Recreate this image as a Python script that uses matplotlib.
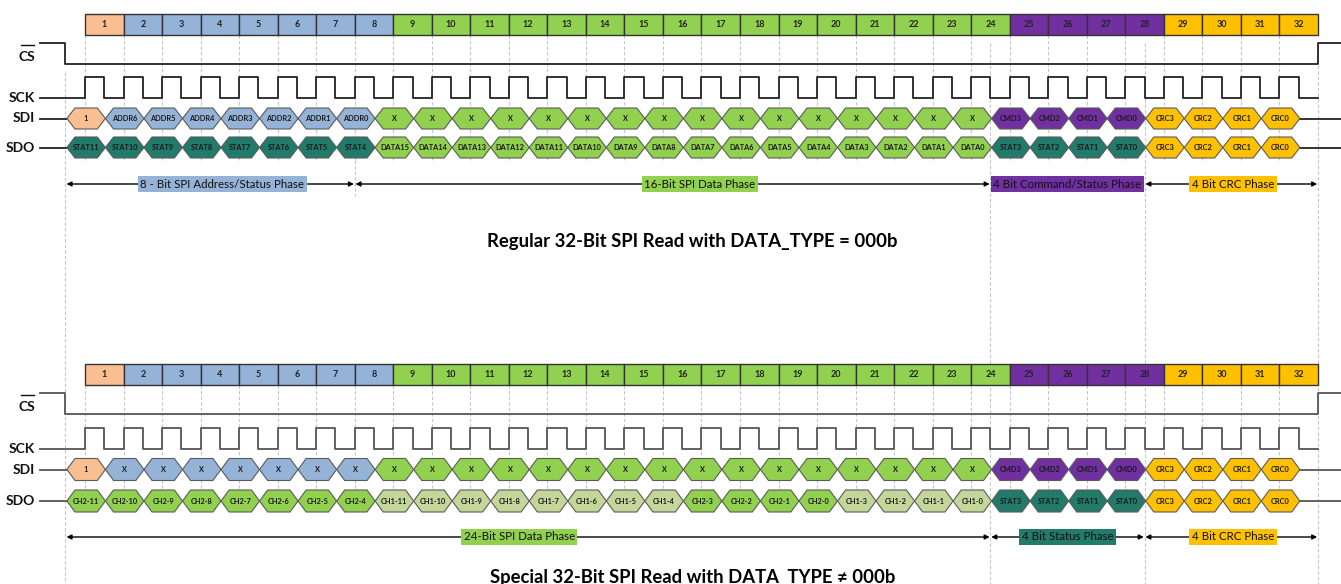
import matplotlib
matplotlib.use("Agg")
import matplotlib.pyplot as plt
from matplotlib.patches import Polygon, Rectangle

plt.rcParams["font.family"] = ["Lato", "DejaVu Sans"]

# ---- data -----------------------------------------------------------------
SALMON = "#F9BF91"
BLUE = "#95B3D7"
GREEN = "#92D050"
LIGHT_GREEN = "#C4D79B"
PURPLE = "#7030A0"
GOLD = "#FFC000"
TEAL = "#227A6B"

box_numbers = [str(i) for i in range(1, 33)]
box_colors = [SALMON] + [BLUE] * 7 + [GREEN] * 16 + [PURPLE] * 4 + [GOLD] * 4

top_sdi_labels = (["1"] + [f"ADDR{i}" for i in range(6, -1, -1)] + ["X"] * 16
                  + [f"CMD{i}" for i in range(3, -1, -1)]
                  + [f"CRC{i}" for i in range(3, -1, -1)])
top_sdi_colors = [SALMON] + [BLUE] * 7 + [GREEN] * 16 + [PURPLE] * 4 + [GOLD] * 4

top_sdo_labels = ([f"STAT{i}" for i in range(11, 3, -1)]
                  + [f"DATA{i}" for i in range(15, -1, -1)]
                  + [f"STAT{i}" for i in range(3, -1, -1)]
                  + [f"CRC{i}" for i in range(3, -1, -1)])
top_sdo_colors = [TEAL] * 8 + [GREEN] * 16 + [TEAL] * 4 + [GOLD] * 4

bot_sdi_labels = (["1"] + ["X"] * 7 + ["X"] * 16
                  + [f"CMD{i}" for i in range(3, -1, -1)]
                  + [f"CRC{i}" for i in range(3, -1, -1)])
bot_sdi_colors = top_sdi_colors

bot_sdo_labels = ([f"CH2-{i}" for i in range(11, 3, -1)]
                  + [f"CH1-{i}" for i in range(11, 3, -1)]
                  + [f"CH2-{i}" for i in range(3, -1, -1)]
                  + [f"CH1-{i}" for i in range(3, -1, -1)]
                  + [f"STAT{i}" for i in range(3, -1, -1)]
                  + [f"CRC{i}" for i in range(3, -1, -1)])
bot_sdo_colors = ([GREEN] * 8 + [LIGHT_GREEN] * 8 + [GREEN] * 4
                  + [LIGHT_GREEN] * 4 + [TEAL] * 4 + [GOLD] * 4)

# phase arrows: edges in clock units, label text, label colour, label centre
top_phase_edges = [-0.5, 7.0, 23.5, 27.5, 32.0]
top_phase_names = ["8 - Bit SPI Address/Status Phase", "16-Bit SPI Data Phase",
                   "4 Bit Command/Status Phase", "4 Bit CRC Phase"]
top_phase_colors = [BLUE, GREEN, PURPLE, GOLD]
top_phase_centers = [3.56, 15.96, 25.5, 29.8]

bot_phase_edges = [-0.5, 23.5, 27.5, 32.0]
bot_phase_names = ["24-Bit SPI Data Phase", "4 Bit Status Phase", "4 Bit CRC Phase"]
bot_phase_colors = [GREEN, TEAL, GOLD]
bot_phase_centers = [11.27, 25.5, 29.8]

top_title = "Regular 32-Bit SPI Read with DATA_TYPE = 000b"
bot_title = "Special 32-Bit SPI Read with DATA_TYPE \u2260 000b"

# ---- layout (pixels) ------------------------------------------------------
W, H = 1341, 584
X0_PX, PERIOD_PX = 85.0, 38.53
HEX_SHIFT = -0.47
N = 32

TOP = dict(box=(14, 35), cs=(43, 64), sck=(77, 98), sdi=118.5, sdo=147.5,
           hex_h=21, arrow=184, title=247, dash_bot=160, cs_label=57,
           wave="#222222")
BOT = dict(box=(364, 385), cs=(393, 414), sck=(428, 449), sdi=469.5, sdo=501,
           hex_h=22, arrow=537, title=583.5, dash_bot=512, cs_label=407,
           wave="#555555")

fig = plt.figure(figsize=(W / 100, H / 100), dpi=100)
ax = fig.add_axes([0, 0, 1, 1])
ax.set_xlim(-X0_PX / PERIOD_PX, (W - X0_PX) / PERIOD_PX)
ax.set_ylim(H, 0)
ax.axis("off")

u_left = (40 - X0_PX) / PERIOD_PX
u_right = (W - X0_PX) / PERIOD_PX
u_label = (35 - X0_PX) / PERIOD_PX
u_cs_fall = -0.52

DASH = dict(color="#c6c6c6", lw=0.8, ls=(0, (3, 2)), zorder=0)

# long guide lines
ax.vlines(u_cs_fall, 72, 584, **DASH)
ax.vlines([23.5, 27.5, 32.0], 43, 584, **DASH)
ax.vlines(7.0, 160, 196, **DASH)


def hexagon(x0, x1, y, h, color, text, edge="#5a5a5a"):
    s = 0.21
    pts = [(x0, y), (x0 + s, y - h / 2), (x1 - s, y - h / 2), (x1, y),
           (x1 - s, y + h / 2), (x0 + s, y + h / 2)]
    ax.add_patch(Polygon(pts, closed=True, fc=color, ec=edge, lw=0.8, zorder=3))
    ax.text((x0 + x1) / 2, y, text, ha="center", va="center", fontsize=5.3,
            fontweight="bold", color="#1a1a1a", zorder=4)


def draw_panel(L, sdi_labels, sdi_colors, sdo_labels, sdo_colors,
               edges, names, colors, centers, title):
    wave = L["wave"]
    b0, b1 = L["box"]
    # clock number boxes
    for i, (num, c) in enumerate(zip(box_numbers, box_colors)):
        ax.add_patch(Rectangle((i, b0), 1, b1 - b0, fc=c, ec="#333333",
                               lw=1.0, zorder=3))
        ax.text(i + 0.5, (b0 + b1) / 2, num, ha="center", va="center",
                fontsize=6.5, fontweight="bold", color="#222222", zorder=4)
    # short guides under the boxes
    ax.vlines(range(0, N), b1, L["dash_bot"], **DASH)

    # CS
    hi, lo = L["cs"]
    ax.plot([u_left, u_cs_fall, u_cs_fall, N, N, u_right],
            [hi, hi, lo, lo, hi, hi], color=wave, lw=1.3, zorder=2)
    # SCK
    hi, lo = L["sck"]
    xs, ys = [u_left, 0], [lo, lo]
    for k in range(N):
        xs += [k, k, k + 0.5, k + 0.5, k + 1]
        ys += [lo, hi, hi, lo, lo]
    ax.plot(xs, ys, color=wave, lw=1.3, zorder=2)

    # SDI / SDO
    for y, labs, cols in ((L["sdi"], sdi_labels, sdi_colors),
                          (L["sdo"], sdo_labels, sdo_colors)):
        ax.plot([u_left, HEX_SHIFT], [y, y], color=wave, lw=1.3, zorder=2)
        ax.plot([N + HEX_SHIFT, u_right], [y, y], color=wave, lw=1.3, zorder=2)
        for i, (t, c) in enumerate(zip(labs, cols)):
            hexagon(i + HEX_SHIFT, i + 1 + HEX_SHIFT, y, L["hex_h"], c, t)

    # signal names
    lab = dict(ha="right", va="center", fontsize=10, fontweight="bold",
               color="#111111")
    ax.text(u_label, L["cs_label"], "CS", **lab)
    ax.plot([(21 - X0_PX) / PERIOD_PX, (34 - X0_PX) / PERIOD_PX],
            [L["cs_label"] - 12, L["cs_label"] - 12], color="#111111", lw=1.0)
    ax.text(u_label, L["sck"][1], "SCK", **lab)
    ax.text(u_label, L["sdi"], "SDI", **lab)
    ax.text(u_label, L["sdo"], "SDO", **lab)

    # phase arrows
    y = L["arrow"]
    for a, b, name, c, cx in zip(edges[:-1], edges[1:], names, colors, centers):
        ax.annotate("", xy=(b - 0.02, y), xytext=(a + 0.02, y),
                    arrowprops=dict(arrowstyle="<|-|>", mutation_scale=7,
                                    lw=1.0, color="black",
                                    shrinkA=0, shrinkB=0), zorder=2)
        ax.text(cx, y, name, ha="center", va="center", fontsize=8.3,
                color="#111111", zorder=5,
                bbox=dict(boxstyle="square,pad=0.22", fc=c, ec="none"))

    ax.text(15.76, L["title"], title, ha="center", va="baseline", fontsize=13.3,
            fontweight="bold", color="black")


draw_panel(TOP, top_sdi_labels, top_sdi_colors, top_sdo_labels, top_sdo_colors,
           top_phase_edges, top_phase_names, top_phase_colors,
           top_phase_centers, top_title)
draw_panel(BOT, bot_sdi_labels, bot_sdi_colors, bot_sdo_labels, bot_sdo_colors,
           bot_phase_edges, bot_phase_names, bot_phase_colors,
           bot_phase_centers, bot_title)

fig.savefig("out.png", dpi=100)
